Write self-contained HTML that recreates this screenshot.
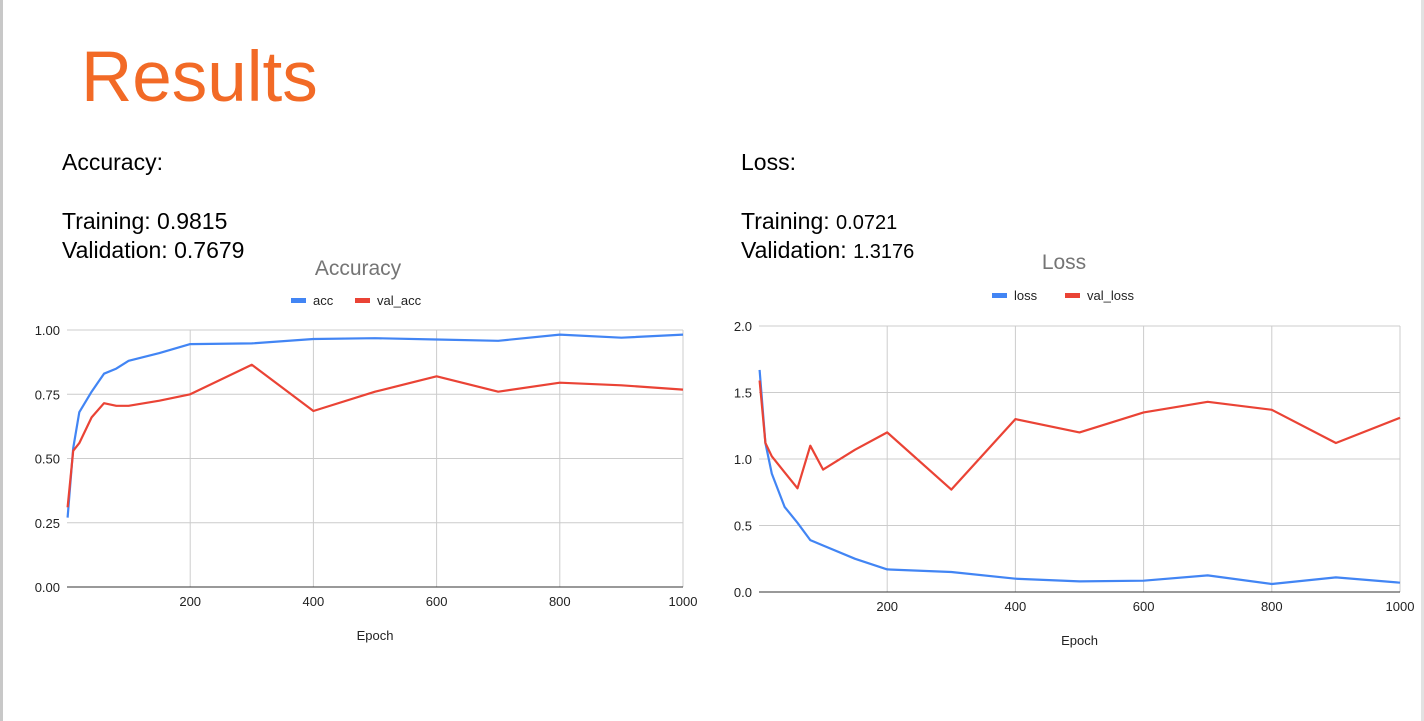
<!DOCTYPE html>
<html><head><meta charset="utf-8"><style>
html,body{margin:0;padding:0;background:#fff;width:1424px;height:721px;overflow:hidden}
svg{display:block;font-family:"Liberation Sans",Arial,sans-serif}
</style></head><body>
<svg id="s" width="1424" height="721" viewBox="0 0 1424 721">
<rect x="0" y="0" width="3" height="721" fill="#c8c8c8"/>
<rect x="1421" y="0" width="3" height="721" fill="#e2e2e2"/>
<text x="81" y="101" font-size="71" fill="#f26a26">Results</text>
<g font-size="23" fill="#000">
<text x="62" y="170">Accuracy:</text>
<text x="62" y="229">Training: 0.9815</text>
<text x="62" y="258">Validation: 0.7679</text>
</g>
<g font-size="23" fill="#000">
<text x="741" y="170">Loss:</text>
<text x="741" y="229">Training: <tspan font-size="20">0.0721</tspan></text>
<text x="741" y="258">Validation: <tspan font-size="20">1.3176</tspan></text>
</g>
<g id="c1"></g>
<g id="c2"></g>
</svg>
<script>
const epochs = [1,10,20,40,60,80,100,150,200,300,400,500,600,700,800,900,1000];
const accValues = [0.27,0.54,0.68,0.76,0.83,0.85,0.88,0.91,0.945,0.948,0.965,0.968,0.963,0.958,0.982,0.97,0.982];
const valAccValues = [0.31,0.53,0.56,0.66,0.715,0.705,0.705,0.725,0.75,0.865,0.685,0.76,0.82,0.76,0.795,0.785,0.768];
const lossValues = [1.67,1.12,0.89,0.64,0.52,0.39,0.35,0.25,0.17,0.15,0.10,0.08,0.085,0.125,0.06,0.11,0.07];
const valLossValues = [1.59,1.12,1.02,0.90,0.78,1.10,0.92,1.07,1.20,0.77,1.30,1.20,1.35,1.43,1.37,1.12,1.31];
const xTicks = [200,400,600,800,1000];
const accTicks = ["0.00","0.25","0.50","0.75","1.00"];
const lossTicks = ["0.0","0.5","1.0","1.5","2.0"];
const NS="http://www.w3.org/2000/svg";
function mk(p,tag,a){const e=document.createElementNS(NS,tag);for(const k in a)e.setAttribute(k,a[k]);p.appendChild(e);return e;}
function chart(g,o){
  const xs=v=>o.x0+(v/1000)*(o.x1-o.x0);
  const ys=v=>o.y0-(v/o.ymax)*(o.y0-o.y1);
  o.ticks.forEach((t,i)=>{
    const v=o.ymax*i/(o.ticks.length-1);
    const l=mk(g,'line',{x1:o.x0,x2:o.x1,y1:ys(v),y2:ys(v),stroke:i==0?'#333':'#ccc','stroke-width':1});
    
    
    const tx=mk(g,'text',{x:o.x0-7,y:ys(v)+5,'text-anchor':'end','font-size':13,fill:'#222'});
    tx.textContent=t;
    
    
  });
  xTicks.forEach(t=>{
    const l=mk(g,'line',{x1:xs(t),x2:xs(t),y1:o.y1,y2:o.y0,stroke:'#ccc','stroke-width':1});
    
    
    const tx=mk(g,'text',{x:xs(t),y:o.y0+19,'text-anchor':'middle','font-size':13,fill:'#222'});
    tx.textContent=t;
    
    
  });
  const ax=mk(g,'line',{x1:o.x0,x2:o.x1,y1:o.y0,y2:o.y0,stroke:'#333','stroke-width':1});
  
  
  const xt=mk(g,'text',{x:(o.x0+o.x1)/2,y:o.y0+53,'text-anchor':'middle','font-size':13,fill:'#222'});
  xt.textContent='Epoch';
  
  
  const ti=mk(g,'text',{x:o.tx,y:o.ty,'text-anchor':'middle','font-size':21,fill:'#757575'});
  ti.textContent=o.title;
  
  
  o.series.forEach((s,i)=>{
    const pts=epochs.map((e,j)=>xs(e).toFixed(1)+','+ys(s.v[j]).toFixed(1)).join(' ');
    const pl=mk(g,'polyline',{points:pts,fill:'none',stroke:s.c,'stroke-width':2.2,'stroke-linejoin':'round'});
    
    
    const lx=o.lx[i];
    const sw=mk(g,'rect',{x:lx,y:o.ly-3,width:15,height:5,fill:s.c});
    
    
    const lt=mk(g,'text',{x:lx+22,y:o.ly+4,'font-size':13,fill:'#222'});
    lt.textContent=s.n;
    
    
  });
}
chart(document.getElementById('c1'),{x0:67,x1:683,y0:587,y1:330,ymax:1,ticks:accTicks,title:'Accuracy',tx:358,ty:275,lx:[291,355],ly:301,
  series:[{n:'acc',v:accValues,c:'#4285f4'},{n:'val_acc',v:valAccValues,c:'#ea4335'}]});
chart(document.getElementById('c2'),{x0:759,x1:1400,y0:592,y1:326,ymax:2,ticks:lossTicks,title:'Loss',tx:1064,ty:269,lx:[992,1065],ly:296,
  series:[{n:'loss',v:lossValues,c:'#4285f4'},{n:'val_loss',v:valLossValues,c:'#ea4335'}]});
</script>
</body></html>
